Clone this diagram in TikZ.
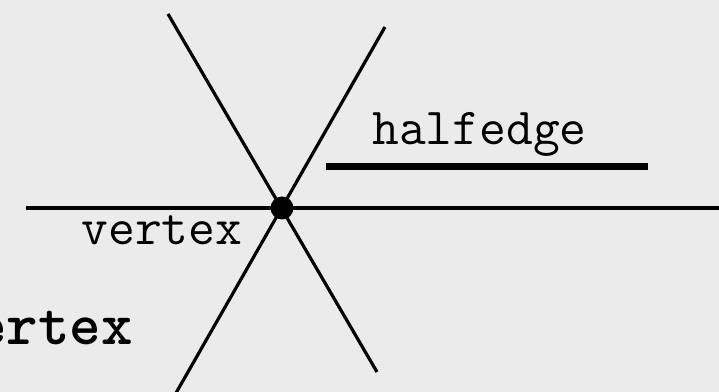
\documentclass[tikz,border=0pt]{standalone}
\usetikzlibrary{positioning}
\definecolor{paper}{HTML}{EBEBEB}
\begin{document}
\begin{tikzpicture}[
  x=0.75pt, y=0.75pt,
  edge/.style={line width=2.4pt},
  half/.style={line width=5.25pt},
  vtx/.style={circle, fill, inner sep=0pt, minimum size=17.25pt},
  lbl/.style={font=\ttfamily\fontsize{39}{46}\selectfont, inner sep=0pt},
  biglbl/.style={font=\ttfamily\bfseries\fontsize{45}{54}\selectfont, inner sep=0pt},
]
\fill[paper] (0,0) rectangle (719,392);
\useasboundingbox (0,0) rectangle (719,392);
\clip (0,0) rectangle (719,392);
% vertex and its edges
\node[vtx] (v) at (282,184) {};
\coordinate (w) at (26,184);
\coordinate (e) at (722,184);
\coordinate (nw) at (168,378);
\coordinate (se) at (377,20);
\coordinate (ne) at (385,365);
\coordinate (sw) at (172,-8);
\draw[edge] (w) -- (e);
\draw[edge] (nw) -- (se);
\draw[edge] (ne) -- (sw);
% halfedge
\coordinate (h1) at (326,225);
\coordinate (h2) at (648,225);
\draw[half] (h1) -- (h2);
\node[lbl, anchor=base] (hlbl) at (479.5,247) {halfedge};
\node[lbl, anchor=base] (vlbl) at (162,147) {vertex};
\node[biglbl, anchor=base east] (title) at (133,47) {vertex};
\end{tikzpicture}
\end{document}
